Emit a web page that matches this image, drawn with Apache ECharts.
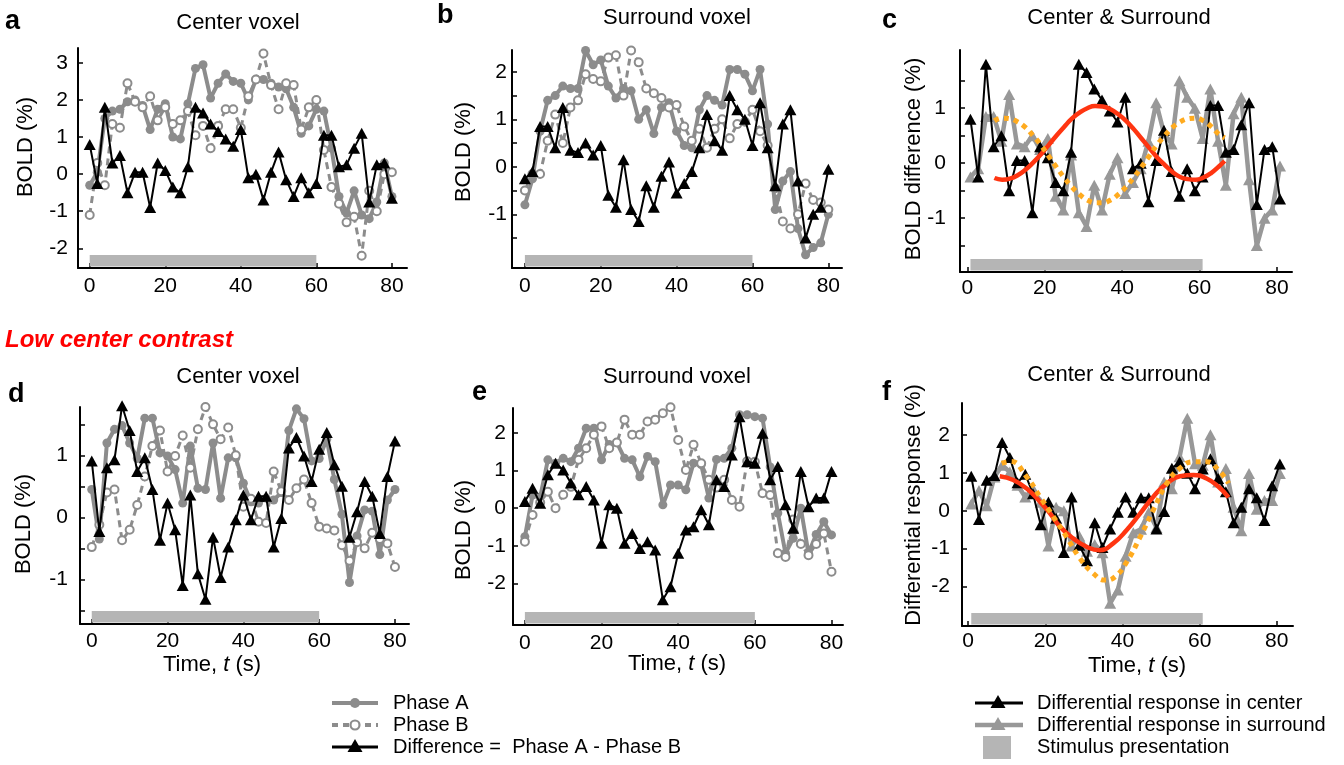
<!DOCTYPE html>
<html>
<head>
<meta charset="utf-8">
<script src="https://cdn.jsdelivr.net/npm/echarts@6/dist/echarts.min.js"></script>
<style>
html,body{margin:0;padding:0;background:#fff;}
#chart{width:1344px;height:765px;}
</style>
</head>
<body>
<div id="chart"></div>
<script>
// ---------- DATA ----------
const time = [0,2,4,6,8,10,12,14,16,18,20,22,24,26,28,30,32,34,36,38,40,42,44,46,48,50,52,54,56,58,60,62,64,66,68,70,72,74,76,78,80];
const stimulus = [0, 60];
const xTicks = [0, 20, 40, 60, 80];

// a: high contrast, center voxel
const highCenterPhaseA = [-0.3,0.05,1.5,1.7,1.75,1.95,2.0,1.85,1.2,1.75,1.9,1.0,0.95,1.9,2.85,2.95,2.05,2.45,2.7,2.5,2.45,2.0,2.55,2.55,2.45,2.35,2.3,1.8,1.1,1.3,1.75,1.7,0.7,-0.6,-1.05,-0.45,-1.1,-1.2,-0.75,0.3,-0.6];
const highCenterPhaseB = [-1.1,0.3,-0.3,1.35,1.25,2.45,1.95,1.8,2.1,1.45,1.8,1.35,1.45,1.7,1.05,1.3,0.7,1.3,1.75,1.75,1.25,2.1,2.55,3.25,2.4,1.75,2.45,2.4,1.2,1.8,2.0,0.65,-0.35,-0.8,-1.3,-1.15,-2.2,-0.45,-1.0,0.0,0.05];
const highCenterDiff = [0.8,-0.25,1.8,0.3,0.5,-0.5,0.05,0.05,-0.9,0.3,0.1,-0.35,-0.5,0.2,1.8,1.65,1.35,1.15,0.95,0.75,1.2,-0.1,0.0,-0.7,0.05,0.6,-0.15,-0.6,-0.1,-0.5,-0.25,1.05,1.05,0.2,0.25,0.7,1.1,-0.75,0.25,0.3,-0.65];

// b: high contrast, surround voxel
const highSurroundPhaseA = [-0.8,-0.25,0.75,1.4,1.5,1.7,1.65,1.65,2.45,2.15,2.25,1.7,1.45,1.65,1.6,1.0,1.2,0.7,1.25,1.35,0.75,0.45,0.4,1.2,1.5,1.4,1.3,2.05,2.05,1.95,1.6,2.05,0.9,-0.9,-0.3,-0.1,-1.3,-1.85,-1.7,-1.6,-1.0];
const highSurroundPhaseB = [-0.5,-0.15,-0.15,0.55,1.1,0.5,1.25,1.4,1.95,1.85,1.8,2.3,2.35,1.5,2.45,2.2,1.65,1.55,1.45,1.25,1.3,0.85,0.55,0.8,0.4,0.8,1.0,0.6,0.9,0.95,1.2,0.75,0.45,-0.45,-1.15,-1.3,-1.0,-0.35,-0.7,-0.75,-0.9];
const highSurroundDiff = [-0.25,-0.1,0.85,0.85,0.4,1.25,0.35,0.3,0.5,0.25,0.45,-0.6,-0.85,0.15,-0.9,-1.15,-0.4,-0.85,-0.2,0.1,-0.55,-0.35,-0.1,0.4,1.1,0.55,0.35,1.5,1.2,1.0,0.45,1.35,0.4,-0.4,0.9,1.2,-0.3,-1.5,-1.0,-0.85,-0.05];

// c: fitted curves (high contrast)
const highFitTime = [7,9,11,13,15,17,19,21,23,25,27,29,31,33,35,37,39,41,43,45,47,49,51,53,55,57,59,61,63,65,66.5];
const highCenterFit = [-0.27,-0.30,-0.28,-0.22,-0.12,0.01,0.16,0.33,0.50,0.66,0.81,0.92,1.00,1.04,1.03,0.98,0.89,0.77,0.62,0.45,0.28,0.11,-0.03,-0.16,-0.25,-0.29,-0.30,-0.26,-0.18,-0.06,0.04];
const highSurroundFit = [0.77,0.82,0.81,0.75,0.65,0.50,0.33,0.13,-0.07,-0.26,-0.43,-0.57,-0.67,-0.72,-0.72,-0.67,-0.57,-0.43,-0.26,-0.07,0.13,0.33,0.50,0.65,0.75,0.81,0.82,0.77,0.67,0.53,0.46];

// d: low center contrast, center voxel
const lowCenterPhaseA = [0.45,-0.35,1.2,1.42,1.48,1.2,0.95,1.6,1.6,1.04,0.99,0.77,0.23,1.15,0.47,0.45,1.2,0.31,0.96,0.96,0.55,0.25,0.23,0.31,0.28,0.4,1.4,1.75,1.59,0.91,0.95,1.26,0.61,0.05,-1.05,-0.3,0.12,0.1,-0.6,0.28,0.45];
const lowCenterPhaseB = [-0.48,-0.12,0.4,0.45,-0.37,-0.2,0.2,0.66,1.15,1.4,0.74,0.99,1.32,0.8,1.42,1.78,1.5,1.26,1.45,1.0,0.17,0.3,-0.07,-0.09,0.74,0.42,0.28,0.47,0.61,0.23,-0.15,-0.18,-0.21,-0.45,-0.7,-0.4,-0.5,-0.25,-0.35,-0.42,-0.8];
const lowCenterDiff = [0.91,-0.23,0.8,0.93,1.8,1.4,0.74,0.96,0.45,-0.37,0.23,-0.2,-1.1,0.36,-0.91,-1.32,-0.32,-0.97,-0.48,-0.04,0.36,-0.04,0.34,0.34,-0.48,-0.02,1.12,1.29,0.99,0.58,1.1,1.37,0.85,0.5,-0.32,0.09,0.58,0.34,-0.26,0.66,1.23];

// e: low center contrast, surround voxel
const lowSurroundPhaseA = [-0.76,0.35,0.3,1.29,1.2,1.33,1.24,1.6,2.13,2.13,1.29,1.7,1.75,1.33,1.29,0.84,1.38,1.24,0.09,0.62,0.62,0.49,1.2,1.16,0.27,1.3,1.33,1.6,2.49,2.49,2.44,2.4,1.1,-0.13,-1.2,-0.8,0.0,-1.2,-0.7,-0.36,-0.71];
const lowSurroundPhaseB = [-0.89,-0.18,0.15,0.44,0.0,0.36,0.57,1.29,1.6,1.96,2.18,1.6,1.75,2.36,1.96,1.96,2.31,2.36,2.53,2.69,1.82,1.02,1.69,1.2,0.76,0.55,0.76,0.22,0.04,1.25,1.24,0.4,0.35,-1.2,-1.3,-0.3,-0.95,-1.25,-0.95,-0.67,-1.69];
const lowSurroundDiff = [0.18,0.53,0.13,0.89,1.2,1.02,0.67,0.36,0.58,0.22,-0.93,0.09,0.0,-0.93,-0.67,-1.07,-0.89,-1.11,-2.44,-2.09,-1.2,-0.58,-0.49,-0.04,-0.44,0.76,0.58,1.42,2.44,1.24,1.2,2.0,0.76,1.11,0.09,-0.53,0.98,0.04,0.27,0.27,0.98];

// f: fitted curves (low center contrast)
const lowCenterFitTime = [8.2,11.7,15.1,18.6,21.2,23.8,27.2,30.7,34.0,37.6,41.1,44.6,48.0,51.5,54.9,58.4,61.8,64.9,67.5];
const lowCenterFit = [0.91,0.81,0.59,0.24,-0.07,-0.42,-0.73,-0.95,-1.04,-0.86,-0.51,-0.07,0.37,0.72,0.91,0.94,0.85,0.63,0.35];
const lowSurroundFitTime = [8.7,11.0,15.1,18.6,22.1,25.5,29.0,32.4,35.5,38.1,41.1,44.6,48.0,51.5,54.9,58.4,61.8,64.9,67.5];
const lowSurroundFit = [1.25,1.3,0.9,0.37,-0.16,-0.69,-1.26,-1.65,-1.83,-1.74,-1.35,-0.69,0.02,0.72,1.12,1.29,1.29,1.07,0.72];

// ---------- STYLE / LAYOUT ----------
const FONT = '"Liberation Sans", Arial, Helvetica, sans-serif';
const GRAY = '#8c8c8c';
const GRAY2 = '#989898';
const STIM = '#b5b5b5';
const RED = '#ff3511';
const ORANGE = '#ffab1f';
const cfShift = 0.8; // horizontal placement of traces in panels c and f

const panels = [
  {grid:{left:78, top:48, width:329, height:220}, x:[-3.1,84], y:[-2.53,3.4], yLab:[-2,-1,0,1,2,3], yTick:[-2,-1,0,1,2,3], xm:8, ym:10},
  {grid:{left:512, top:50, width:330, height:218}, x:[-3.4,83.6], y:[-2.13,2.46], yLab:[-1,0,1,2], yTick:[-1.5,-1,-0.5,0,0.5,1,1.5,2], xm:8, ym:5},
  {grid:{left:960, top:50, width:332, height:222}, x:[-1.9,83.9], y:[-1.98,2.06], yLab:[-1,0,1], yTick:[-1.5,-1,-0.5,0,0.5,1,1.5], xm:6, ym:14},
  {grid:{left:80, top:407, width:329, height:217}, x:[-3.1,83.7], y:[-1.72,1.78], yLab:[-1,0,1], yTick:[-1.5,-1,-0.5,0,0.5,1,1.5], xm:7, ym:12},
  {grid:{left:513, top:408, width:330, height:217}, x:[-3.1,83.0], y:[-3.11,2.67], yLab:[-2,-1,0,1,2], yTick:[-2,-1,0,1,2], xm:8, ym:7},
  {grid:{left:962, top:403, width:331, height:223}, x:[-1.6,84.2], y:[-3.04,2.84], yLab:[-2,-1,0,1,2], yTick:[-2,-1,0,1,2], xm:5, ym:12}
];

const grids = panels.map(p => Object.assign({containLabel:false}, p.grid));
const axisCommon = (i) => ({
  gridIndex:i, type:'value',
  axisLine:{onZero:false, lineStyle:{color:'#000', width:2}},
  splitLine:{show:false}
});
const xAxes = panels.map((p,i) => Object.assign(axisCommon(i), {
  min:p.x[0], max:p.x[1],
  axisTick:{inside:true, length:5, customValues:xTicks, lineStyle:{color:'#000', width:1.5}},
  axisLabel:{customValues:xTicks, margin:p.xm, color:'#000', fontSize:21, fontFamily:FONT}
}));
const yAxes = panels.map((p,i) => Object.assign(axisCommon(i), {
  min:p.y[0], max:p.y[1],
  axisTick:{inside:true, length:5, customValues:p.yTick, lineStyle:{color:'#000', width:1.5}},
  axisLabel:{customValues:p.yLab, margin:p.ym, color:'#000', fontSize:21, fontFamily:FONT}
}));

function pairs(xs, ys, shift){ return xs.map((t,k)=>[t + (shift||0), ys[k]]); }

function stimSeries(i, shift){
  return {
    type:'custom', xAxisIndex:i, yAxisIndex:i, z:1, silent:true,
    data:[[stimulus[0] + (shift||0), stimulus[1] + (shift||0)]],
    encode:{x:[0,1]},
    renderItem:function(params, api){
      const x0 = api.coord([api.value(0), 0])[0];
      const x1 = api.coord([api.value(1), 0])[0];
      const cs = params.coordSys;
      const bottom = cs.y + cs.height;
      return {type:'rect', shape:{x:x0, y:bottom-13, width:x1-x0, height:11.5}, style:{fill:STIM}};
    }
  };
}

function voxelSeries(i, A, B, D){
  return [
    stimSeries(i, 0),
    {type:'line', xAxisIndex:i, yAxisIndex:i, z:2, clip:false, data:pairs(time, A), symbol:'circle', symbolSize:9, showAllSymbol:true,
      itemStyle:{color:GRAY}, lineStyle:{color:GRAY, width:4}},
    {type:'line', xAxisIndex:i, yAxisIndex:i, z:3, clip:false, data:pairs(time, B), symbol:'circle', symbolSize:8, showAllSymbol:true,
      itemStyle:{color:'#fff', borderColor:GRAY, borderWidth:2}, lineStyle:{color:GRAY, width:3, type:[7,5]}},
    {type:'line', xAxisIndex:i, yAxisIndex:i, z:4, clip:false, data:pairs(time, D), symbol:'triangle', symbolSize:[12,11], showAllSymbol:true,
      itemStyle:{color:'#000'}, lineStyle:{color:'#000', width:2}}
  ];
}

function cmpSeries(i, center, surround, ct, cf, st, sf){
  return [
    stimSeries(i, cfShift),
    {type:'line', xAxisIndex:i, yAxisIndex:i, z:2, clip:false, data:pairs(time, surround, cfShift), symbol:'triangle', symbolSize:[12,11], showAllSymbol:true,
      itemStyle:{color:GRAY2}, lineStyle:{color:GRAY2, width:4.5}},
    {type:'line', xAxisIndex:i, yAxisIndex:i, z:3, clip:false, data:pairs(time, center, cfShift), symbol:'triangle', symbolSize:[12,11], showAllSymbol:true,
      itemStyle:{color:'#000'}, lineStyle:{color:'#000', width:2}},
    {type:'line', xAxisIndex:i, yAxisIndex:i, z:4, clip:false, data:pairs(ct, cf), symbol:'none', smooth:0.5,
      lineStyle:{color:RED, width:4.5}},
    {type:'line', xAxisIndex:i, yAxisIndex:i, z:5, clip:false, data:pairs(st, sf), symbol:'none', smooth:0.5,
      lineStyle:{color:ORANGE, width:5, type:[5,5]}}
  ];
}

const series = [].concat(
  voxelSeries(0, highCenterPhaseA, highCenterPhaseB, highCenterDiff),
  voxelSeries(1, highSurroundPhaseA, highSurroundPhaseB, highSurroundDiff),
  cmpSeries(2, highCenterDiff, highSurroundDiff, highFitTime, highCenterFit, highFitTime, highSurroundFit),
  voxelSeries(3, lowCenterPhaseA, lowCenterPhaseB, lowCenterDiff),
  voxelSeries(4, lowSurroundPhaseA, lowSurroundPhaseB, lowSurroundDiff),
  cmpSeries(5, lowCenterDiff, lowSurroundDiff, lowCenterFitTime, lowCenterFit, lowSurroundFitTime, lowSurroundFit)
);

// ---------- TEXT / LEGEND GRAPHICS ----------
function txt(x, y, text, size, opts){
  opts = opts || {};
  const font = (opts.style || '') + ' ' + (opts.weight || 'normal') + ' ' + size + 'px ' + FONT;
  return {type:'text', x:x, y:y, rotation:opts.rot || 0, z:10, silent:true,
    style:{text:text, font:font, fill:opts.color || '#000',
      align:opts.align || 'center', verticalAlign:'middle',
      textAlign:opts.align || 'center', textVerticalAlign:'middle'}};
}
function timeLabel(x, y){
  return {type:'text', x:x, y:y, z:10, silent:true,
    style:{text:'{n|Time, }{i|t}{n| (s)}', align:'center', verticalAlign:'middle',
      textAlign:'center', textVerticalAlign:'middle',
      rich:{n:{font:'22px ' + FONT, fill:'#000'}, i:{font:'italic 22px ' + FONT, fill:'#000'}}}};
}
function tri(cx, cy, w, h, color){
  return {type:'polygon', z:11, silent:true, shape:{points:[[cx, cy-h/2-1],[cx-w/2, cy+h/2],[cx+w/2, cy+h/2]]}, style:{fill:color}};
}
function seg(x1, x2, y, color, width, dash){
  return {type:'line', z:10, silent:true, shape:{x1:x1, y1:y, x2:x2, y2:y}, style:{stroke:color, lineWidth:width, lineDash:dash || null}};
}

const R = Math.PI/2;
const graphics = [
  // panel letters
  txt(5, 22, 'a', 27, {weight:'bold', align:'left'}),
  txt(437, 16, 'b', 27, {weight:'bold', align:'left'}),
  txt(882, 21, 'c', 27, {weight:'bold', align:'left'}),
  txt(8, 395, 'd', 27, {weight:'bold', align:'left'}),
  txt(472, 393, 'e', 27, {weight:'bold', align:'left'}),
  txt(882, 393, 'f', 27, {weight:'bold', align:'left'}),
  // titles
  txt(238, 23, 'Center voxel', 22),
  txt(677, 18, 'Surround voxel', 22),
  txt(1119, 18, 'Center & Surround', 22),
  txt(238, 377, 'Center voxel', 22),
  txt(677, 377, 'Surround voxel', 22),
  txt(1119, 375, 'Center & Surround', 22),
  // row label
  txt(5, 340, 'Low center contrast', 24, {weight:'bold', style:'italic', color:'#ff0000', align:'left'}),
  // y-axis names
  txt(26, 147, 'BOLD (%)', 22, {rot:R}),
  txt(464, 152, 'BOLD (%)', 22, {rot:R}),
  txt(914, 159, 'BOLD difference (%)', 22, {rot:R}),
  txt(24, 524, 'BOLD (%)', 22, {rot:R}),
  txt(464, 530, 'BOLD (%)', 22, {rot:R}),
  txt(914, 505, 'Differential response (%)', 22, {rot:R}),
  // x-axis names
  timeLabel(212, 665),
  timeLabel(677, 664),
  timeLabel(1137, 666),
  // left legend
  seg(332, 378, 703, GRAY, 4),
  {type:'circle', z:11, silent:true, shape:{cx:355, cy:703, r:5}, style:{fill:GRAY}},
  seg(332, 378, 725, GRAY, 4, [6,5]),
  {type:'circle', z:11, silent:true, shape:{cx:355, cy:725, r:4.5}, style:{fill:'#fff', stroke:GRAY, lineWidth:2.2}},
  seg(332, 378, 747, '#000', 3),
  tri(355, 746, 15, 12, '#000'),
  txt(393, 703, 'Phase A', 20, {align:'left'}),
  txt(393, 725, 'Phase B', 20, {align:'left'}),
  txt(393, 747, 'Difference =  Phase A - Phase B', 20, {align:'left'}),
  // right legend
  seg(975, 1023, 703, '#000', 3),
  tri(998, 702, 15, 12, '#000'),
  seg(975, 1023, 725, GRAY2, 4.5),
  tri(998, 724, 15, 12, GRAY2),
  {type:'rect', z:10, silent:true, shape:{x:983, y:736, width:28, height:23}, style:{fill:STIM}},
  txt(1037, 703, 'Differential response in center', 20, {align:'left'}),
  txt(1037, 725, 'Differential response in surround', 20, {align:'left'}),
  txt(1037, 747, 'Stimulus presentation', 20, {align:'left'})
];

const chart = echarts.init(document.getElementById('chart'), null, {renderer:'canvas'});
chart.setOption({
  animation:false,
  backgroundColor:'#fff',
  textStyle:{fontFamily:FONT},
  grid:grids,
  xAxis:xAxes,
  yAxis:yAxes,
  series:series,
  graphic:{elements:graphics}
});
</script>
</body>
</html>
